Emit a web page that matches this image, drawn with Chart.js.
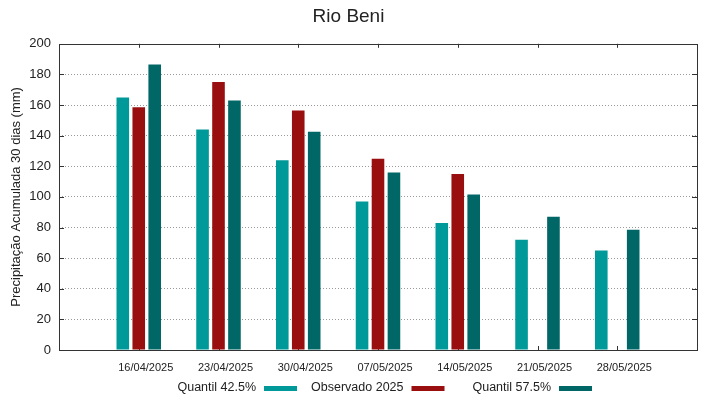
<!DOCTYPE html>
<html>
<head>
<meta charset="utf-8">
<title>Rio Beni</title>
<script src="https://cdn.jsdelivr.net/npm/chart.js@4.4.1/dist/chart.umd.min.js"></script>
<style>
html, body { margin: 0; padding: 0; background: #fff; }
#wrap { width: 719px; height: 399px; }
</style>
</head>
<body>
<div id="wrap"><canvas id="grafico" width="719" height="399"></canvas></div>
<script>
//////////////////////////////// Dados /////////////////////////////////////////

var datas = ['16/04/2025', '23/04/2025', '30/04/2025', '07/05/2025', '14/05/2025', '21/05/2025', '28/05/2025'];
var quantil425    = [165, 144, 124, 97, 83, 72, 65];          // Quantil 42.5%
var observado2025 = [158.5, 175, 156.5, 125, 115, null, null]; // Observado 2025
var quantil575    = [186.5, 163, 142.5, 116, 101.5, 87, 78.5]; // Quantil 57.5%
var yTicks = [0, 20, 40, 60, 80, 100, 120, 140, 160, 180, 200];

var nomes = ['Quantil 42.5%', 'Observado 2025', 'Quantil 57.5%'];
var cores = ['#009999', '#990f0f', '#006666'];
var fonte = '"Liberation Sans", Arial, sans-serif';

//////////////////////////////// Funções ///////////////////////////////////////

// uma categoria vazia em cada ponta, como no gráfico original
function comBordas(arr) {
    return [null].concat(arr, [null]);
}

var moldura = {
    id: 'moldura',
    beforeDatasetsDraw: function(chart) {      // tracinhos para dentro
        var ctx = chart.ctx, a = chart.chartArea;
        var x = chart.scales.x, y = chart.scales.y;
        ctx.save();
        ctx.strokeStyle = '#333';
        ctx.lineWidth = 1;
        ctx.beginPath();
        yTicks.forEach(function(v) {
            var py = Math.round(y.getPixelForValue(v)) + 0.5;
            ctx.moveTo(a.left, py);  ctx.lineTo(a.left + 5, py);
            ctx.moveTo(a.right, py); ctx.lineTo(a.right - 5, py);
        });
        datas.forEach(function(d, i) {
            var px = Math.round(x.getPixelForValue(i + 1)) + 0.5;
            ctx.moveTo(px, a.top);    ctx.lineTo(px, a.top + 4);
            ctx.moveTo(px, a.bottom); ctx.lineTo(px, a.bottom - 4);
        });
        ctx.stroke();
        ctx.restore();
    },
    afterDatasetsDraw: function(chart) {       // borda e legenda
        var ctx = chart.ctx, a = chart.chartArea;
        ctx.save();
        ctx.strokeStyle = '#333';
        ctx.lineWidth = 1;
        ctx.strokeRect(Math.round(a.left) + 0.5, Math.round(a.top) + 0.5,
                       Math.round(a.right - a.left), Math.round(a.bottom - a.top));
        ctx.font = '12.5px ' + fonte;
        ctx.fillStyle = '#222';
        ctx.textAlign = 'right';
        ctx.textBaseline = 'middle';
        chart.data.datasets.forEach(function(ds, i) {
            var bx = 264 + i * 147.5;
            ctx.fillStyle = '#222';
            ctx.fillText(ds.label, bx - 8, 388);
            ctx.fillStyle = ds.backgroundColor;
            ctx.fillRect(bx, 386, 33, 5);
        });
        ctx.restore();
    }
};

var grafico = new Chart(document.getElementById('grafico'), {
    type: 'bar',
    data: {
        labels: [''].concat(datas, ['']),
        datasets: [
            { label: nomes[0], data: comBordas(quantil425),    backgroundColor: cores[0] },
            { label: nomes[1], data: comBordas(observado2025), backgroundColor: cores[1] },
            { label: nomes[2], data: comBordas(quantil575),    backgroundColor: cores[2] }
        ]
    },
    options: {
        responsive: false,
        animation: false,
        devicePixelRatio: 1,
        layout: { padding: { left: 0, right: 22, top: 0, bottom: 0 } },
        datasets: { bar: { categoryPercentage: 0.6, barPercentage: 0.79, borderWidth: 0 } },
        plugins: {
            legend: { display: false },
            tooltip: { enabled: false },
            title: {
                display: true,
                text: 'Rio Beni',
                color: '#222',
                font: { family: fonte, size: 19, weight: 'normal' },
                padding: { top: 5, bottom: 16 }
            }
        },
        scales: {
            x: {
                offset: false,
                grid: { display: false, drawTicks: false },
                border: { display: false },
                ticks: {
                    font: { family: fonte, size: 11 },
                    color: '#222',
                    padding: 11,
                    labelOffset: 7,
                    maxRotation: 0,
                    autoSkip: false
                },
                afterFit: function(s) { s.height = 49; }
            },
            y: {
                min: 0,
                max: 200,
                afterBuildTicks: function(s) {
                    s.ticks = yTicks.map(function(v) { return { value: v }; });
                },
                ticks: { font: { family: fonte, size: 13 }, color: '#222', padding: 8 },
                grid: {
                    drawTicks: false,
                    lineWidth: 1,
                    color: function(c) {
                        if (c.tick && (c.tick.value === 0 || c.tick.value === 200)) return 'rgba(0,0,0,0)';
                        return '#9a9a9a';
                    }
                },
                border: { display: false, dash: [1, 2] },
                title: {
                    display: true,
                    text: 'Precipitação Acumulada 30 dias (mm)',
                    color: '#222',
                    font: { family: fonte, size: 13 },
                    padding: { top: 9, bottom: 0 }
                },
                afterFit: function(s) { s.width = 59; }
            }
        }
    },
    plugins: [moldura]
});
</script>
</body>
</html>
